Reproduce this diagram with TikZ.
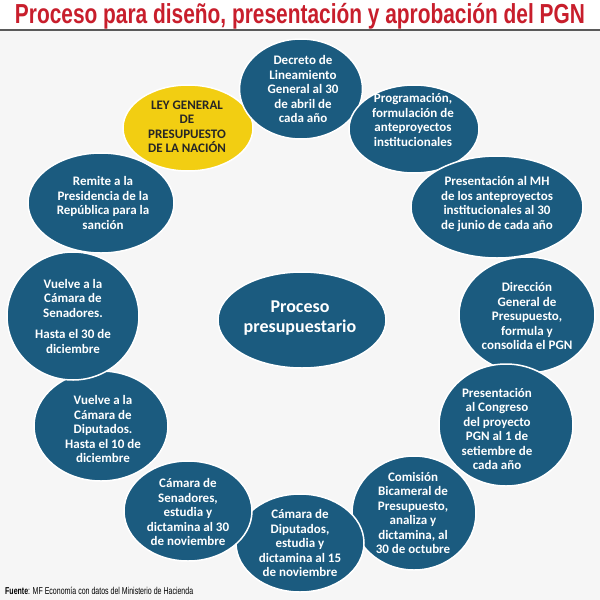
\documentclass[tikz,border=0pt]{standalone}
\usepackage{fontspec}
\usepackage{graphicx}
\setmainfont{Carlito}
\newfontfamily\titlefont{Liberation Sans}
\usetikzlibrary{shapes.geometric}
\definecolor{pgnblue}{HTML}{1B5B7F}
\definecolor{pgnyellow}{HTML}{F2CE12}
\definecolor{pgnred}{HTML}{C81E2C}
\definecolor{pgnbg}{HTML}{F6F6F6}
\definecolor{pgnline}{HTML}{5A5A5A}
\begin{document}
\begin{tikzpicture}[x=1pt,y=-1pt,
  bub/.style={ellipse, fill=pgnblue, draw=white, line width=1.5pt, inner sep=0pt},
  ybub/.style={bub, fill=pgnyellow},
  txt/.style={text=white, font=\bfseries\fontsize{13}{14.5}\selectfont, align=center, inner sep=0pt},
  ytxt/.style={txt, text=black!85}]
\useasboundingbox (0,0) rectangle (600,600);
\fill[pgnbg] (0,0) rectangle (600,600);
\fill[white] (0,0) rectangle (600,30);
\draw[pgnline, line width=1.5pt] (0,30) -- (600,30);
\node[anchor=base, inner sep=0pt, text=pgnred] (title) at (300,23)
  {\resizebox{570pt}{\height}{\titlefont\bfseries\fontsize{27.5}{30}\selectfont Proceso para diseño, presentación y aprobación del PGN}};
\node[anchor=base west, inner sep=0pt, text=black] (fuente) at (5,594)
  {\resizebox{188pt}{\height}{\titlefont\fontsize{10}{12}\selectfont\textbf{Fuente}: MF Economía con datos del Ministerio de Hacienda}};

% center
\node[bub, minimum width=168pt, minimum height=96pt] (c) at (302,320) {};
\node[txt, font=\bfseries\fontsize{18}{20.5}\selectfont] at (300,318) {Proceso\\presupuestario};

% ring
\node[ybub, minimum width=130pt, minimum height=86pt] (ley) at (188,128) {};
\node[ytxt] at (187,127) {LEY GENERAL\\DE\\PRESUPUESTO\\DE LA NACIÓN};

\node[bub, minimum width=123pt, minimum height=100pt] (dec) at (301,89) {};
\node[txt] at (303,89) {Decreto de\\Lineamiento\\General al 30\\de abril de\\cada año};

\node[bub, minimum width=130pt, minimum height=88pt] (prog) at (414,129) {};
\node[txt] at (413,120) {Programación,\\formulación de\\anteproyectos\\institucionales};

\node[bub, minimum width=172pt, minimum height=102pt] (mh) at (497,207) {};
\node[txt] at (497,204) {Presentación al MH\\de los anteproyectos\\institucionales al 30\\de junio de cada año};

\node[bub, minimum width=136pt, minimum height=116pt] (dir) at (527,315) {};
\node[txt] at (527,316) {Dirección\\General de\\Presupuesto,\\formula y\\consolida el PGN};

\node[bub, minimum width=134pt, minimum height=122pt] (cong) at (506,425) {};
\node[txt] at (497,429) {Presentación\\al Congreso\\del proyecto\\PGN al 1 de\\setiembre de\\cada año};

\node[bub, minimum width=124pt, minimum height=114pt] (com) at (414,513) {};
\node[txt] at (413,513) {Comisión\\Bicameral de\\Presupuesto,\\analiza y\\dictamina, al\\30 de octubre};

\node[bub, minimum width=128pt, minimum height=98pt] (dip) at (300,543) {};
\node[txt] at (300,543) {Cámara de\\Diputados,\\estudia y\\dictamina al 15\\de noviembre};

\node[bub, minimum width=128pt, minimum height=100pt] (sen) at (188,511) {};
\node[txt] at (188,512) {Cámara de\\Senadores,\\estudia y\\dictamina al 30\\de noviembre};

\node[bub, minimum width=134pt, minimum height=110pt] (vdip) at (101,426) {};
\node[txt] at (103,429) {Vuelve a la\\Cámara de\\Diputados.\\Hasta el 10 de\\diciembre};

\node[bub, minimum width=132pt, minimum height=128pt] (vsen) at (73,316) {};
\node[txt] at (73,316) {Vuelve a la\\Cámara de\\Senadores.\\[7pt]Hasta el 30 de\\diciembre};

\node[bub, minimum width=146pt, minimum height=100pt] (rem) at (101,203) {};
\node[txt] at (103,203) {Remite a la\\Presidencia de la\\República para la\\sanción};
\end{tikzpicture}
\end{document}
